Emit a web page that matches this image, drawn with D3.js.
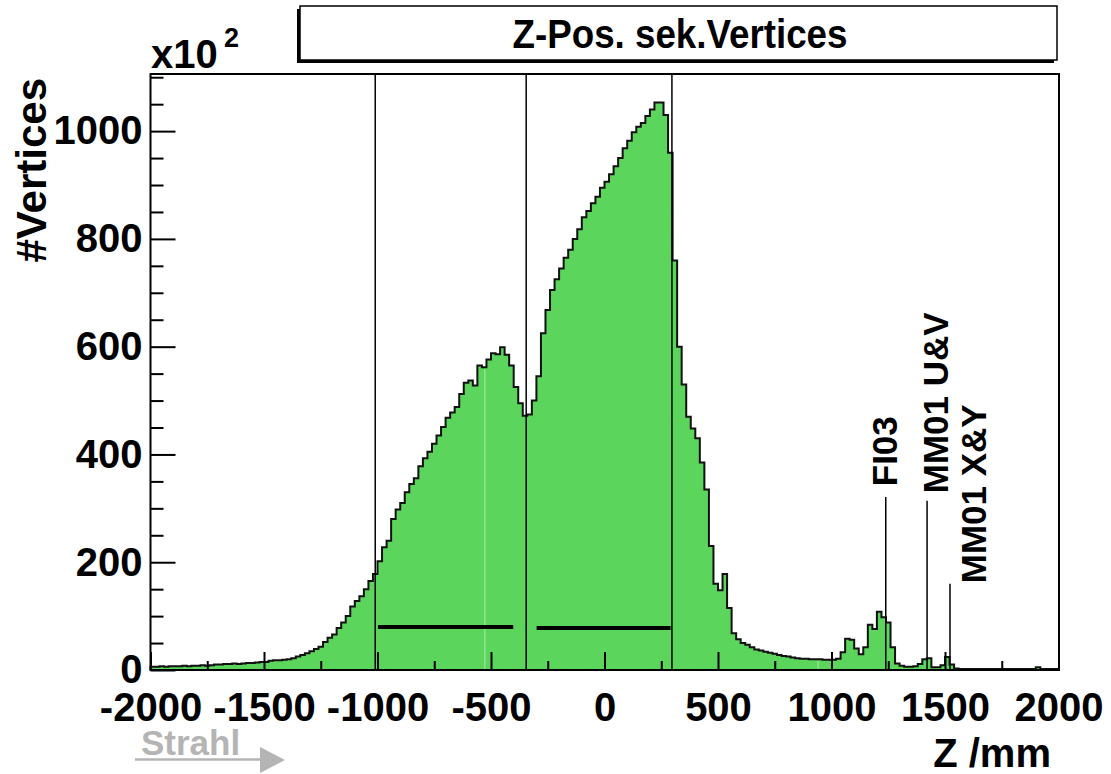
<!DOCTYPE html>
<html>
<head>
<meta charset="utf-8">
<script src="https://d3js.org/d3.v7.min.js"></script>
<style>
body { margin: 0; background: #fff; }
svg text { font-family: "Liberation Sans", Arial, Helvetica, sans-serif; font-weight: bold; }
</style>
</head>
<body>
<script>
// histogram of secondary vertex z position, 20 mm bins from -2000 to 2000, counts in units of 10^2
var binLow = -2000, binWidth = 20;
var counts = [
  6, 6, 7, 6, 7, 7, 7, 8, 7, 8,                 // -2000..-1800
  8, 9, 8, 9, 10, 10, 11, 11, 12, 11,           // -1800..-1600
  12, 13, 13, 14, 15, 15, 17, 18, 18, 19,       // -1600..-1400
  20, 22, 25, 28, 31, 35, 39, 43, 52, 60,       // -1400..-1200
  66, 78, 88, 100, 118, 128, 137, 150, 165, 178, // -1200..-1000
  202, 228, 240, 280, 298, 310, 330, 345, 356, 378, // -1000..-800
  393, 405, 420, 435, 451, 468, 478, 488, 512, 533, // -800..-600
  537, 528, 565, 562, 576, 588, 586, 599, 585, 565, // -600..-400
  525, 495, 472, 474, 500, 545, 625, 668, 705, 725, // -400..-200
  745, 765, 780, 800, 818, 840, 852, 866, 878, 895, // -200..0
  906, 920, 935, 950, 968, 982, 998, 1008, 1015, 1028, // 0..200
  1040, 1053, 1053, 1030, 960, 760, 600, 530, 470, 448, // 200..400
  430, 385, 335, 230, 160, 148, 178, 115, 68, 57, // 400..600
  50, 47, 42, 38, 36, 34, 32, 30, 28, 26,       // 600..800
  25, 23, 22, 21, 21, 20, 20, 20, 19, 19,       // 800..1000
  19, 21, 33, 58, 56, 40, 29, 42, 84, 76,       // 1000..1200
  108, 98, 88, 42, 12, 8, 6, 6, 7, 11,          // 1200..1400
  20, 22, 5, 5, 9, 24, 10, 3, 2, 2,             // 1400..1600
  2, 2, 2, 2, 2, 2, 2, 2, 2, 2,                 // 1600..1800
  2, 2, 2, 2, 2, 5, 2, 2, 2, 2                  // 1800..2000
];

var xTicksMajor = [-2000, -1500, -1000, -500, 0, 500, 1000, 1500, 2000];
var xTicksMinor = [-1750, -1250, -750, -250, 250, 750, 1250, 1750];
var yTicksMajor = [0, 200, 400, 600, 800, 1000];
var yTicksMinor = [50, 100, 150, 250, 300, 350, 450, 500, 550, 650, 700, 750, 850, 900, 950, 1050, 1100];

// target region boundaries (vertical lines) and the two target cells (thick bars)
var regionLines = [-1010, -345, 297];
var targetStart = [-998, -299];
var targetEnd = [-402, 291];
var targetLevel = [80, 78];

// detector markers
var markerNames = ["FI03", "MM01 U&V", "MM01 X&Y"];
var markerZ = [1239, 1421, 1522];
var markerTop = [321, 314, 160];
var markerLabelZ = [1289, 1512, 1680];
var markerLabelY = [341, 328, 161];

// light seams in the fill
var seams = [-527, 941];

var svg = d3.select('body').append('svg')
  .attr('width', 1111)
  .attr('height', 774);

var x = d3.scaleLinear().domain([-2000, 2000]).range([150.5, 1058.5]);
var y = d3.scaleLinear().domain([0, 1106]).range([670, 74]);

var bins = counts.map(function(c, i) {
  return { lo: binLow + i * binWidth, hi: binLow + (i + 1) * binWidth, v: c };
});

var pts = [];
bins.forEach(function(b) {
  pts.push([x(b.lo), y(b.v)]);
  pts.push([x(b.hi), y(b.v)]);
});

var fillPts = [[x(-2000), y(0)]].concat(pts).concat([[x(2000), y(0)]]);

svg.append('path')
  .attr('d', d3.line()(fillPts) + 'Z')
  .attr('fill', '#5bd55b')
  .attr('stroke', 'none');

seams.forEach(function(s) {
  var b = bins[Math.floor((s - binLow) / binWidth)];
  svg.append('line')
    .attr('x1', x(s)).attr('x2', x(s))
    .attr('y1', y(0)).attr('y2', y(b.v) + 2)
    .attr('stroke', '#a8eba8')
    .attr('stroke-width', 1);
});

svg.append('path')
  .attr('d', d3.line()(fillPts))
  .attr('fill', 'none')
  .attr('stroke', '#111')
  .attr('stroke-width', 2)
  .attr('stroke-linejoin', 'miter');

// region lines
svg.selectAll('.region')
  .data(regionLines)
  .enter().append('line')
  .attr('x1', function(d) { return x(d); })
  .attr('x2', function(d) { return x(d); })
  .attr('y1', y(0))
  .attr('y2', y(1106))
  .attr('stroke', '#000')
  .attr('stroke-width', 1.5);

// target bars
svg.selectAll('.target')
  .data(targetStart)
  .enter().append('line')
  .attr('x1', function(d) { return x(d); })
  .attr('x2', function(d, i) { return x(targetEnd[i]); })
  .attr('y1', function(d, i) { return y(targetLevel[i]); })
  .attr('y2', function(d, i) { return y(targetLevel[i]); })
  .attr('stroke', '#000')
  .attr('stroke-width', 4);

// detector markers
svg.selectAll('.marker')
  .data(markerZ)
  .enter().append('line')
  .attr('x1', function(d) { return x(d); })
  .attr('x2', function(d) { return x(d); })
  .attr('y1', y(0))
  .attr('y2', function(d, i) { return y(markerTop[i]); })
  .attr('stroke', '#000')
  .attr('stroke-width', 1.5);

svg.selectAll('.mlabel')
  .data(markerNames)
  .enter().append('text')
  .attr('transform', function(d, i) {
    return 'translate(' + x(markerLabelZ[i]) + ',' + y(markerLabelY[i]) + ') rotate(-90)';
  })
  .attr('font-size', 35)
  .attr('fill', '#000')
  .style('white-space', 'pre')
  .text(function(d) { return d; });

// axes
var xMajor = svg.append('g')
  .attr('transform', 'translate(0,670)')
  .call(d3.axisBottom(x).tickValues(xTicksMajor).tickSize(-18).tickPadding(23).tickFormat(d3.format('d')));
var xMinor = svg.append('g')
  .attr('transform', 'translate(0,670)')
  .call(d3.axisBottom(x).tickValues(xTicksMinor).tickSize(-9).tickFormat(''));
var yMajor = svg.append('g')
  .attr('transform', 'translate(150.5,0)')
  .call(d3.axisLeft(y).tickValues(yTicksMajor).tickSize(-25).tickPadding(8).tickFormat(d3.format('d')));
var yMinor = svg.append('g')
  .attr('transform', 'translate(150.5,0)')
  .call(d3.axisLeft(y).tickValues(yTicksMinor).tickSize(-13).tickFormat(''));

[xMajor, xMinor, yMajor, yMinor].forEach(function(g) {
  g.select('.domain').remove();
  g.selectAll('line').attr('stroke', '#000').attr('stroke-width', 2);
  g.selectAll('text').attr('font-size', 40).attr('fill', '#000')
    .style('font-family', '"Liberation Sans", Arial, sans-serif').style('font-weight', 'bold');
});
xMajor.selectAll('text').text(function(d) { return d < 0 ? '-' + Math.abs(d) : d; });

// frame
svg.append('rect')
  .attr('x', 150.5)
  .attr('y', 74)
  .attr('width', 908.5)
  .attr('height', 596)
  .attr('fill', 'none')
  .attr('stroke', '#000')
  .attr('stroke-width', 2);

// axis titles
svg.append('text')
  .attr('transform', 'translate(46,78) rotate(-90)')
  .attr('text-anchor', 'end')
  .attr('font-size', 42)
  .text('#Vertices');

svg.append('text')
  .attr('x', 1051)
  .attr('y', 767)
  .attr('text-anchor', 'end')
  .attr('font-size', 40)
  .style('white-space', 'pre')
  .text('Z /mm');

svg.append('text')
  .attr('x', 151)
  .attr('y', 68)
  .attr('font-size', 40)
  .text('x10');
svg.append('text')
  .attr('x', 224)
  .attr('y', 47)
  .attr('font-size', 27)
  .text('2');

// title box with shadow
svg.append('rect')
  .attr('x', 297).attr('y', 9)
  .attr('width', 757).attr('height', 54)
  .attr('fill', '#000');
svg.append('rect')
  .attr('x', 300).attr('y', 6)
  .attr('width', 757).attr('height', 54)
  .attr('fill', '#fff')
  .attr('stroke', '#000')
  .attr('stroke-width', 1.5);
svg.append('text')
  .attr('x', 680)
  .attr('y', 48)
  .attr('text-anchor', 'middle')
  .attr('font-size', 40)
  .attr('textLength', 335)
  .attr('lengthAdjust', 'spacingAndGlyphs')
  .text('Z-Pos. sek.Vertices');

// beam direction
svg.append('text')
  .attr('x', 141)
  .attr('y', 755)
  .attr('font-size', 35)
  .attr('fill', '#b4b4b4')
  .text('Strahl');
svg.append('line')
  .attr('x1', 135).attr('x2', 262)
  .attr('y1', 759.5).attr('y2', 759.5)
  .attr('stroke', '#b4b4b4')
  .attr('stroke-width', 2.5);
svg.append('path')
  .attr('d', 'M260,747 L285,760 L260,773 Z')
  .attr('fill', '#b4b4b4');
</script>
</body>
</html>
